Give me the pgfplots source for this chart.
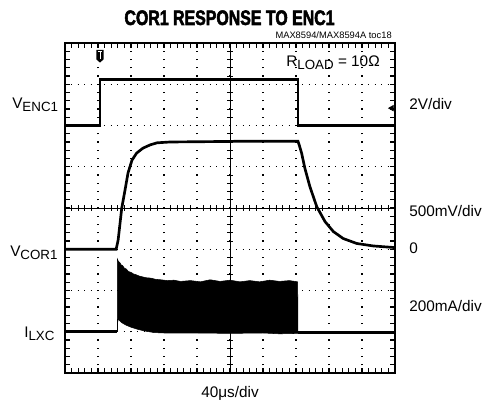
\documentclass[border=0pt]{standalone}
\usepackage{fontspec}
\setmainfont{Liberation Sans}
\newfontfamily\titlefont[FakeStretch=0.76, FakeBold=2.5]{Liberation Sans}
\usepackage{pgfplots}
\pgfplotsset{compat=1.18}

\newcommand{\lab}{\fontsize{11.5}{13}\selectfont}
\newcommand{\sub}[1]{\raisebox{-2pt}{\fontsize{10}{12}\selectfont #1}}

\pgfdeclareplotmark{trig}{%
  \pgfpathmoveto{\pgfqpoint{-2.7pt}{4.8pt}}%
  \pgfpathlineto{\pgfqpoint{2.7pt}{4.8pt}}%
  \pgfpathlineto{\pgfqpoint{2.7pt}{-2.4pt}}%
  \pgfpathlineto{\pgfqpoint{0pt}{-4.8pt}}%
  \pgfpathlineto{\pgfqpoint{-2.7pt}{-2.4pt}}%
  \pgfpathclose
  \pgfusepathqfill
  \pgfsetstrokecolor{white}\pgfsetlinewidth{0.7pt}%
  \pgfpathmoveto{\pgfqpoint{-1.6pt}{3.2pt}}\pgfpathlineto{\pgfqpoint{1.6pt}{3.2pt}}%
  \pgfpathmoveto{\pgfqpoint{0pt}{3.2pt}}\pgfpathlineto{\pgfqpoint{0pt}{-2.2pt}}%
  \pgfusepathqstroke
}

\begin{document}
\begin{tikzpicture}
\path[use as bounding box] (-48.75pt,-24.75pt) rectangle (312.75pt,279.75pt);
\begin{axis}[
  at={(0pt,0pt)}, anchor=south west,
  scale only axis, width=247.5pt, height=247.5pt,
  xmin=0, xmax=10, ymin=0, ymax=8,
  xtick={0,...,10}, ytick={0,...,8},
  minor x tick num=4, minor y tick num=4,
  xticklabels={}, yticklabels={},
  tick align=inside,
  major tick length=3.5pt, minor tick length=3.5pt,
  every tick/.style={black, line width=0.8pt},
  axis line style={black, line width=1.6pt},
  grid=major,
  major x grid style={black, line width=1.1pt, dash pattern=on 1pt off 5.1875pt, dash phase=0.5pt},
  major y grid style={black, line width=1.1pt, dash pattern=on 1pt off 3.95pt, dash phase=0.5pt},
]
% center lines
\addplot[black, line width=0.6pt] coordinates {(5,0) (5,8)};
\addplot[black, line width=0.6pt] coordinates {(0,4) (10,4)};
\addplot[black, only marks, mark=-, mark size=2pt, mark options={line width=0.6pt}] coordinates {
(5,0.2)(5,0.4)(5,0.6)(5,0.8)(5,1.2)(5,1.4)(5,1.6)(5,1.8)(5,2.2)(5,2.4)(5,2.6)(5,2.8)
(5,3.2)(5,3.4)(5,3.6)(5,3.8)(5,4.2)(5,4.4)(5,4.6)(5,4.8)(5,5.2)(5,5.4)(5,5.6)(5,5.8)
(5,6.2)(5,6.4)(5,6.6)(5,6.8)(5,7.2)(5,7.4)(5,7.6)(5,7.8)};
\addplot[black, only marks, mark=|, mark size=2pt, mark options={line width=0.6pt}] coordinates {
(0.2,4)(0.4,4)(0.6,4)(0.8,4)(1.2,4)(1.4,4)(1.6,4)(1.8,4)(2.2,4)(2.4,4)(2.6,4)(2.8,4)
(3.2,4)(3.4,4)(3.6,4)(3.8,4)(4.2,4)(4.4,4)(4.6,4)(4.8,4)(5.2,4)(5.4,4)(5.6,4)(5.8,4)
(6.2,4)(6.4,4)(6.6,4)(6.8,4)(7.2,4)(7.4,4)(7.6,4)(7.8,4)(8.2,4)(8.4,4)(8.6,4)(8.8,4)
(9.2,4)(9.4,4)(9.6,4)(9.8,4)};
% V_ENC1
\addplot[black, line width=2.2pt] coordinates {(0,6.0)(1.06,6.0)(1.06,7.12)(7.06,7.12)(7.06,6.0)(10,6.0)};
% V_COR1
\addplot[black, line width=2.0pt] coordinates {(0,3.0)(1.55,3.0)(1.61,3.22)(1.72,4.0)(1.82,4.44)(1.91,4.85)(2.03,5.16)(2.17,5.33)(2.36,5.45)(2.58,5.53)(2.79,5.58)(3.18,5.60)(4.5,5.61)(5.5,5.62)(7.06,5.62)(7.10,5.52)(7.17,5.33)(7.27,4.96)(7.42,4.52)(7.63,4.03)(7.88,3.67)(8.13,3.43)(8.43,3.26)(8.84,3.14)(9.34,3.08)(10,3.04)};
% I_LXC baseline
\addplot[black, line width=2.2pt] coordinates {(0,1.0)(1.59,1.0)};
\addplot[black, line width=2.2pt] coordinates {(7.06,0.98)(10,0.98)};
% I_LXC switching band
\addplot[fill=black, draw=black, line width=0.4pt] coordinates {
(1.59,1.0)(1.59,2.76)(1.62,2.70)(1.66,2.68)(1.70,2.62)(1.75,2.60)(1.80,2.54)(1.86,2.52)(1.92,2.46)(2.0,2.44)(2.08,2.40)(2.16,2.38)(2.25,2.35)(2.35,2.33)(2.45,2.31)(2.6,2.30)(2.75,2.27)(2.9,2.26)(3.1,2.24)(3.3,2.25)(3.5,2.22)(3.8,2.24)(4.1,2.21)(4.4,2.26)(4.7,2.22)(5.0,2.25)(5.3,2.21)(5.6,2.24)(5.9,2.21)(6.2,2.25)(6.5,2.22)(6.8,2.24)(7.05,2.21)(7.06,0.98)
(7.06,0.96)(6.5,0.95)(6.0,0.97)(5.0,0.96)(4.0,0.97)(3.0,0.97)(2.7,0.98)(2.4,1.02)(2.2,1.06)(2.0,1.11)(1.85,1.16)(1.72,1.22)(1.64,1.28)(1.60,1.30)} -- cycle;
% markers
\addplot[black, only marks, mark=triangle*, mark size=2.4pt, mark options={rotate=90, fill=black}] coordinates {(9.9,6.42)};
\addplot[black, only marks, mark=trig] coordinates {(1.06,7.68)};
\end{axis}
% texts
\node[anchor=base, inner sep=0pt] at (123.4pt,261pt) {\titlefont\bfseries\fontsize{15.7}{17}\selectfont COR1 RESPONSE TO ENC1};
\node[anchor=base east, inner sep=0pt] at (245.25pt,250.9pt) {\fontsize{7}{8}\selectfont MAX8594/MAX8594A toc18};
\node[anchor=base east, inner sep=0pt] at (236.25pt,229.5pt) {\lab R\sub{LOAD} = 10Ω};
\node[anchor=base west, inner sep=0pt] at (-39.75pt,198pt) {\lab V\sub{ENC1}};
\node[anchor=base west, inner sep=0pt] at (-41.25pt,87pt) {\lab V\sub{COR1}};
\node[anchor=base west, inner sep=0pt] at (-30.75pt,26.25pt) {\lab I\sub{LXC}};
\node[anchor=base west, inner sep=0pt] at (258pt,197.25pt) {\lab 2V/div};
\node[anchor=base west, inner sep=0pt] at (258pt,117pt) {\lab 500mV/div};
\node[anchor=base west, inner sep=0pt] at (258pt,89.6pt) {\lab 0};
\node[anchor=base west, inner sep=0pt] at (258pt,45.75pt) {\lab 200mA/div};
\node[anchor=base, inner sep=0pt] at (123.75pt,-18.75pt) {\lab 40μs/div};
\end{tikzpicture}
\end{document}
